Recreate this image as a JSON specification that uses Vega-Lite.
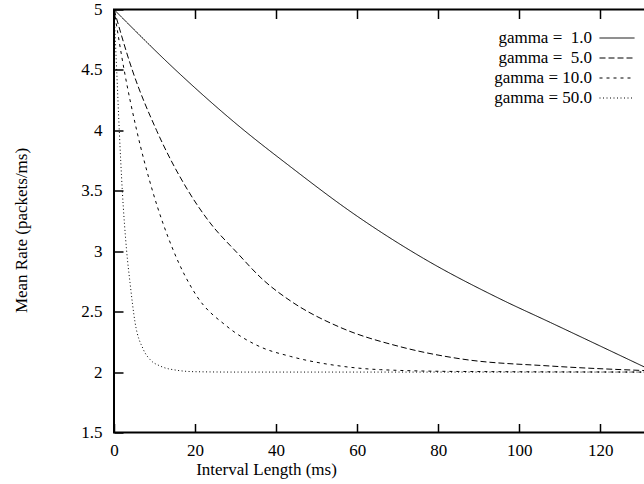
{
  "$schema": "https://vega.github.io/schema/vega-lite/v6.json",
  "autosize": "none",
  "width": 539,
  "height": 423,
  "padding": {"left": 114, "top": 9.5, "right": 0, "bottom": 52},
  "background": "white",
  "config": {
    "font": "Liberation Serif",
    "view": {"stroke": "black", "strokeWidth": 2},
    "axis": {
      "domain": false,
      "grid": false,
      "tickColor": "black",
      "tickWidth": 1.5,
      "tickSize": 9,
      "labelFlush": false,
      "labelColor": "black",
      "labelFont": "Liberation Serif",
      "labelFontSize": 17,
      "titleFont": "Liberation Serif",
      "titleFontSize": 17,
      "titleFontWeight": "normal",
      "titleColor": "black"
    },
    "legend": {"labelFont": "Liberation Serif"}
  },
  "data": {
    "values": [
      {"series": "gamma = \u00a01.0", "t": 0, "rate": 5.0},
      {"series": "gamma = \u00a01.0", "t": 15.5, "rate": 4.49},
      {"series": "gamma = \u00a01.0", "t": 30.3, "rate": 4.05},
      {"series": "gamma = \u00a01.0", "t": 43.5, "rate": 3.70},
      {"series": "gamma = \u00a01.0", "t": 58.7, "rate": 3.32},
      {"series": "gamma = \u00a01.0", "t": 76.4, "rate": 2.94},
      {"series": "gamma = \u00a01.0", "t": 95.3, "rate": 2.605},
      {"series": "gamma = \u00a01.0", "t": 107.7, "rate": 2.41},
      {"series": "gamma = \u00a01.0", "t": 120, "rate": 2.215},
      {"series": "gamma = \u00a01.0", "t": 131, "rate": 2.04},
      {"series": "gamma = \u00a01.0", "t": 133, "rate": 2.008},
      {"series": "gamma = \u00a05.0", "t": 0, "rate": 5.0},
      {"series": "gamma = \u00a05.0", "t": 4.5, "rate": 4.5},
      {"series": "gamma = \u00a05.0", "t": 10.5, "rate": 4.0},
      {"series": "gamma = \u00a05.0", "t": 18.3, "rate": 3.5},
      {"series": "gamma = \u00a05.0", "t": 23.7, "rate": 3.235},
      {"series": "gamma = \u00a05.0", "t": 30.3, "rate": 2.99},
      {"series": "gamma = \u00a05.0", "t": 36.9, "rate": 2.76},
      {"series": "gamma = \u00a05.0", "t": 43.5, "rate": 2.59},
      {"series": "gamma = \u00a05.0", "t": 55.8, "rate": 2.37},
      {"series": "gamma = \u00a05.0", "t": 70.6, "rate": 2.21},
      {"series": "gamma = \u00a05.0", "t": 85.4, "rate": 2.11},
      {"series": "gamma = \u00a05.0", "t": 107.7, "rate": 2.05},
      {"series": "gamma = \u00a05.0", "t": 133, "rate": 2.01},
      {"series": "gamma = 10.0", "t": 0, "rate": 5.0},
      {"series": "gamma = 10.0", "t": 2.5, "rate": 4.5},
      {"series": "gamma = 10.0", "t": 5.6, "rate": 4.0},
      {"series": "gamma = 10.0", "t": 9.5, "rate": 3.5},
      {"series": "gamma = 10.0", "t": 14.6, "rate": 3.01},
      {"series": "gamma = 10.0", "t": 20.4, "rate": 2.63},
      {"series": "gamma = 10.0", "t": 27.8, "rate": 2.38},
      {"series": "gamma = 10.0", "t": 36, "rate": 2.21},
      {"series": "gamma = 10.0", "t": 43.5, "rate": 2.13},
      {"series": "gamma = 10.0", "t": 55.8, "rate": 2.05},
      {"series": "gamma = 10.0", "t": 65.7, "rate": 2.02},
      {"series": "gamma = 10.0", "t": 85, "rate": 2.005},
      {"series": "gamma = 10.0", "t": 133, "rate": 2.0},
      {"series": "gamma = 50.0", "t": 0, "rate": 5.0},
      {"series": "gamma = 50.0", "t": 0.66, "rate": 4.5},
      {"series": "gamma = 50.0", "t": 1.3, "rate": 4.0},
      {"series": "gamma = 50.0", "t": 2.05, "rate": 3.5},
      {"series": "gamma = 50.0", "t": 3.1, "rate": 3.01},
      {"series": "gamma = 50.0", "t": 3.95, "rate": 2.74},
      {"series": "gamma = 50.0", "t": 5.2, "rate": 2.41},
      {"series": "gamma = 50.0", "t": 7.2, "rate": 2.19},
      {"series": "gamma = 50.0", "t": 9, "rate": 2.1},
      {"series": "gamma = 50.0", "t": 11.4, "rate": 2.05},
      {"series": "gamma = 50.0", "t": 15.5, "rate": 2.015},
      {"series": "gamma = 50.0", "t": 20, "rate": 2.003},
      {"series": "gamma = 50.0", "t": 30, "rate": 2.0},
      {"series": "gamma = 50.0", "t": 133, "rate": 2.0}
    ]
  },
  "layer": [
    {
      "mark": {"type": "line", "interpolate": "monotone", "color": "black", "strokeWidth": 1, "clip": true},
      "encoding": {
        "x": {
          "field": "t", "type": "quantitative",
          "scale": {"domain": [0, 133], "nice": false, "zero": false},
          "axis": {
            "orient": "bottom",
            "values": [0, 20, 40, 60, 80, 100, 120],
            "ticks": false,
            "labelPadding": 18,
            "labelBaseline": "middle",
            "labelFlush": false,
            "labelFont": "Liberation Serif",
            "title": "Interval Length (ms)",
            "titleX": 152,
            "titleY": 42,
            "titleBaseline": "alphabetic",
            "titleAnchor": "middle",
            "titleAlign": "center"
          }
        },
        "y": {
          "field": "rate", "type": "quantitative",
          "scale": {"domain": [1.5, 5], "nice": false, "zero": false},
          "axis": {
            "orient": "left",
            "values": [1.5, 2, 2.5, 3, 3.5, 4, 4.5, 5],
            "format": "~g",
            "ticks": false,
            "labelPadding": 12,
            "labelBaseline": "middle",
            "labelFlush": false,
            "labelFont": "Liberation Serif",
            "title": "Mean Rate (packets/ms)",
            "titleX": -87.3,
            "titleY": 220.5,
            "titleBaseline": "alphabetic",
            "titleAngle": -90,
            "titleAlign": "center"
          }
        },
        "strokeDash": {
          "field": "series", "type": "nominal",
          "scale": {
            "domain": ["gamma = \u00a01.0", "gamma = \u00a05.0", "gamma = 10.0", "gamma = 50.0"],
            "range": [[1, 0], [6, 3], [3, 4], [1, 2.5]]
          },
          "legend": {
            "orient": "none",
            "legendX": 494.5,
            "legendY": 20,
            "title": null,
            "padding": 0,
            "symbolType": "M-3.5,0H3.5",
            "symbolSize": 100,
            "symbolStrokeWidth": 1,
            "symbolStrokeColor": "black",
            "symbolFillColor": "transparent",
            "labelAlign": "right",
            "labelOffset": -33.5,
            "labelFont": "Liberation Serif",
            "labelFontSize": 17,
            "labelColor": "black",
            "rowPadding": 2,
            "labelLimit": 300
          }
        }
      }
    },
    {
      "mark": {"type": "line", "strokeOpacity": 0, "color": "black"},
      "encoding": {
        "x": {
          "field": "t", "type": "quantitative",
          "axis": {"orient": "bottom", "offset": -9, "values": [0, 20, 40, 60, 80, 100, 120], "labels": false, "title": null}
        },
        "y": {
          "field": "rate", "type": "quantitative",
          "axis": {"orient": "left", "offset": -9, "values": [1.5, 2, 2.5, 3, 3.5, 4, 4.5, 5], "labels": false, "title": null}
        }
      }
    },
    {
      "mark": {"type": "line", "strokeOpacity": 0, "color": "black"},
      "encoding": {
        "x": {
          "field": "t", "type": "quantitative",
          "axis": {"orient": "top", "offset": -9, "values": [0, 20, 40, 60, 80, 100, 120], "labels": false, "title": null}
        },
        "y": {
          "field": "rate", "type": "quantitative",
          "axis": {"orient": "right", "offset": -9, "values": [1.5, 2, 2.5, 3, 3.5, 4, 4.5, 5], "labels": false, "title": null}
        }
      }
    }
  ],
  "resolve": {"axis": {"x": "independent", "y": "independent"}}
}
